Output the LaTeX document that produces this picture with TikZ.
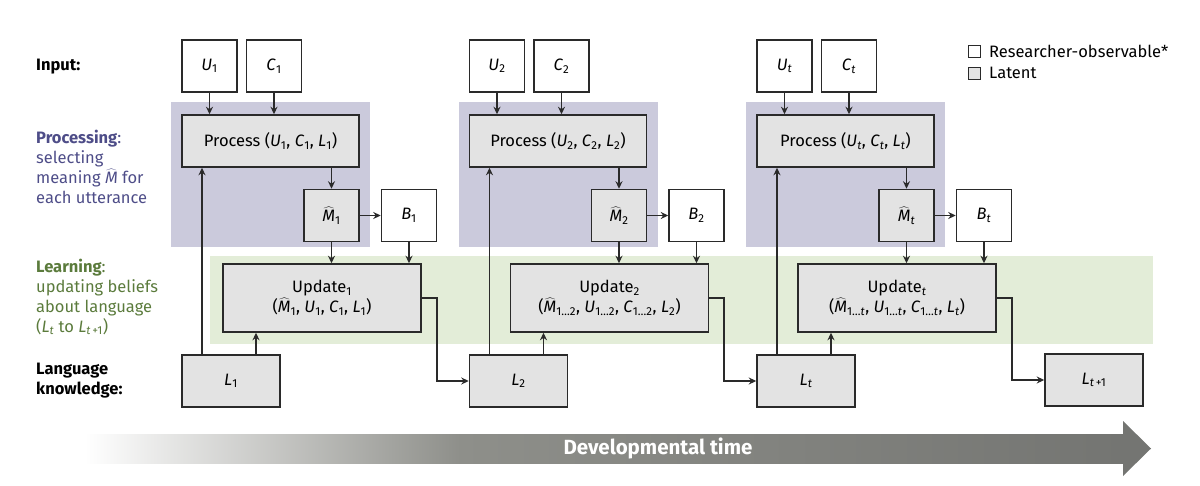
\documentclass[tikz,border=0pt]{standalone}
\usepackage{fontspec}
\setmainfont{Fira Sans}
\usetikzlibrary{arrows.meta}
\definecolor{bord}{HTML}{2A2A2A}
\definecolor{latfill}{HTML}{E3E3E3}
\definecolor{procbg}{HTML}{CBCADC}
\definecolor{learnbg}{HTML}{E3EDD8}
\definecolor{proctext}{HTML}{4E4D88}
\definecolor{learntext}{HTML}{5B7B3C}
\definecolor{tgA}{HTML}{8E8F8A}
\definecolor{tgB}{HTML}{747572}
\newcommand{\Mh}{$\widehat{\hbox{\itshape M}}$}
\newcommand{\sbs}[1]{\textsubscript{#1}}
\newcommand{\vv}[2]{\textit{#1}\textsubscript{#2}}
\begin{document}
\begin{tikzpicture}[x=1pt,y=-1pt,
  font=\fontsize{16.5}{20}\selectfont,
  obs/.style={draw=bord, fill=white, line width=1.5pt, minimum width=55pt, minimum height=52pt, inner sep=0pt},
  lat/.style={obs, fill=latfill},
  arr/.style={-{Stealth[length=7.5pt,width=7pt]}, line width=1.6pt, draw=bord},
  lbl/.style={anchor=west, inner sep=0pt, align=left}]
\useasboundingbox (0,0) rectangle (1200,485);
% learning band
\fill[learnbg] (210,256) rectangle (1153,344);
\foreach \k/\ox/\s/\r in {1/0/1/1, 2/287.5/2/{1…2}, t/575/{\textit{t}}/{1…\textit{t}}} {
  \fill[procbg] (171+\ox,102) rectangle (370+\ox,247);
  \node[obs] (U\k) at (209.5+\ox,66) {\vv{U}{\s}};
  \node[obs] (C\k) at (274+\ox,66) {\vv{C}{\s}};
  \node[lat, minimum width=177pt] (P\k) at (270.5+\ox,141) {Process (\vv{U}{\s}, \vv{C}{\s}, \vv{L}{\s})};
  \node[lat] (M\k) at (331.5+\ox,215.5) {\Mh\sbs{\s}};
  \node[obs] (B\k) at (409+\ox,215.5) {\vv{B}{\s}};
  \node[lat, minimum width=198pt, minimum height=68pt, align=center] (Upd\k) at (322+\ox,298)
     {Update\sbs{\s}\\(\Mh\sbs{\r}, \vv{U}{\r}, \vv{C}{\r}, \vv{L}{\s})};
  \node[lat, minimum width=98pt] (L\k) at (231+\ox,381) {\vv{L}{\s}};
  \draw[arr] (U\k.south) -- (U\k.south |- P\k.north);
  \draw[arr] (C\k.south) -- (C\k.south |- P\k.north);
  \draw[arr] (M\k.north |- P\k.south) -- (M\k.north);
  \draw[arr] (M\k.east) -- (B\k.west);
  \draw[arr] (M\k.south) -- (M\k.south |- Upd\k.north);
  \draw[arr] (B\k.south) -- (B\k.south |- Upd\k.north);
  \draw[arr] ([xshift=-29pt]L\k.north) -- ([xshift=-29pt]L\k.north |- P\k.south);
  \draw[arr] ([xshift=25pt]L\k.north) -- ([xshift=25pt]L\k.north |- Upd\k.south);
}
\node[lat, minimum width=98pt] (Lnext) at (1094,380) {\vv{L}{\textit{t}\,+1}};
\draw[arr] (Upd1.east) -- ++(15,0) |- (L2.west);
\draw[arr] (Upd2.east) -- ++(15,0) |- (Lt.west);
\draw[arr] (Updt.east) -- ++(15,0) |- (Lnext.west);
% legend
\node[draw=bord, fill=white, line width=1pt, minimum size=12pt, inner sep=0pt] (lgA) at (974.5,51) {};
\node[anchor=west, inner sep=0pt] (lgAt) at ([xshift=8pt]lgA.east) {Researcher-observable*};
\node[draw=bord, fill=latfill, line width=1pt, minimum size=12pt, inner sep=0pt] (lgB) at (974.5,73) {};
\node[anchor=west, inner sep=0pt] (lgBt) at ([xshift=8pt]lgB.east) {Latent};
% left labels
\node[lbl] (tin) at (36,67) {\bfseries Input:};
\node[lbl, text=proctext] (tproc) at (36,167) {\textbf{Processing}:\\selecting\\meaning \Mh{} for\\each utterance};
\node[lbl, text=learntext] (tlearn) at (36,297) {\textbf{Learning}:\\updating beliefs\\about language\\(\vv{L}{\textit{t}} to \vv{L}{\textit{t}\,+1})};
\node[lbl] (tlang) at (36,381) {\bfseries Language\\\bfseries knowledge:};
% time arrow
\shade[left color=white, right color=tgA] (85,434) rectangle (460,463);
\shade[left color=tgA, right color=tgB] (459.5,434) rectangle (1123.5,463);
\fill[tgB] (1123,421) -- (1151,448.5) -- (1123,476) -- cycle;
\node[text=white, font=\fontsize{20.5}{24}\selectfont\bfseries] (ttime) at (658,448) {Developmental time};
\end{tikzpicture}
\end{document}
